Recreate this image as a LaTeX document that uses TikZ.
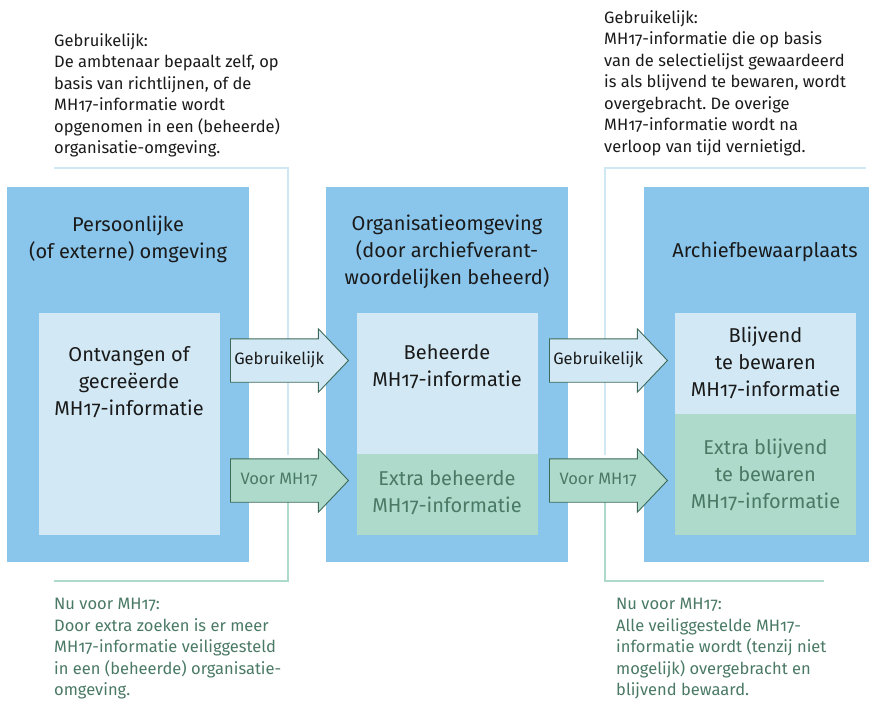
\documentclass[tikz,border=0pt]{standalone}
\usepackage{fontspec}
\setmainfont{Fira Sans}[Numbers=OldStyle]
\frenchspacing
\usetikzlibrary{shapes.arrows}
\definecolor{envblue}{HTML}{8AC6EC}
\definecolor{infoblue}{HTML}{D2E9F5}
\definecolor{infogreen}{HTML}{ADDACB}
\definecolor{textgreen}{HTML}{4A7965}
\definecolor{arrowline}{HTML}{3E6B59}
\definecolor{darktext}{HTML}{1A1A1A}
\definecolor{usualline}{HTML}{D0E8F4}
\definecolor{mhline}{HTML}{AEDACB}
\tikzset{
  envbox/.style={fill=envblue,minimum height=375pt,inner sep=0pt},
  infobox/.style={fill=infoblue,minimum width=181pt,inner sep=0pt},
  extrabox/.style={fill=infogreen,minimum width=181pt,inner sep=0pt},
  note/.style={align=left,inner sep=0pt,font=\fontsize{16.5}{21.5}\selectfont},
  boxtext/.style={align=center,inner sep=0pt,font=\fontsize{20}{27}\selectfont,text=darktext},
  flowarrow/.style={single arrow,draw=arrowline,line width=0.9pt,minimum height=118pt,
    single arrow head extend=10pt,single arrow tip angle=93,inner xsep=3pt,inner ysep=14.5pt,
    text height=10.5pt,text depth=3pt,font=\fontsize{16.5}{18}\selectfont},
  usualconn/.style={draw=usualline,line width=2pt},
  mhconn/.style={draw=mhline,line width=2pt}
}
\begin{document}
\begin{tikzpicture}[x=1pt,y=-1pt]
  \useasboundingbox (0,0) rectangle (876,704);
  % explanation texts
  \node[note,anchor=north west,text=darktext] at (54,33) (usualleft) {Gebruikelijk:\\De ambtenaar bepaalt zelf, op\\basis van richtlijnen, of de\\MH17-informatie wordt\\opgenomen in een (beheerde)\\organisatie-omgeving.};
  \node[note,anchor=north west,text=darktext] at (604,10) (usualright) {Gebruikelijk:\\MH17-informatie die op basis\\van de selectielijst gewaardeerd\\is als blijvend te bewaren, wordt\\overgebracht. De overige\\MH17-informatie wordt na\\verloop van tijd vernietigd.};
  \node[note,anchor=north west,text=textgreen] at (54,598) (mhleft) {Nu voor MH17:\\Door extra zoeken is er meer\\MH17-informatie veiliggesteld\\in een (beheerde) organisatie-\\omgeving.};
  \node[note,anchor=north west,text=textgreen] at (616,598) (mhright) {Nu voor MH17:\\Alle veiliggestelde MH17-\\informatie wordt (tenzij niet\\mogelijk) overgebracht en\\blijvend bewaard.};
  % bracket lines
  \coordinate (ul1) at (54,168);
  \coordinate (ul2) at (288,455);
  \coordinate (ur1) at (866,168);
  \coordinate (ur2) at (605,455);
  \coordinate (ml1) at (54,581);
  \coordinate (ml2) at (288,490);
  \coordinate (mr1) at (824,581);
  \coordinate (mr2) at (605,490);
  \draw[usualconn] (ul1) -| (ul2);
  \draw[usualconn] (ur1) -| (ur2);
  \draw[mhconn] (ml1) -| (ml2);
  \draw[mhconn] (mr1) -| (mr2);
  % environments
  \node[envbox,minimum width=242pt] at (128,374.5) (personal) {};
  \node[envbox,minimum width=242pt] at (447,374.5) (organisation) {};
  \node[envbox,minimum width=225pt] at (756.5,374.5) (archive) {};
  \node[boxtext] at (128,239) (personaltitle) {Persoonlijke\\(of externe) omgeving};
  \node[boxtext] at (447,252) (organisationtitle) {Organisatieomgeving\\(door archiefverant-\\woordelijken beheerd)};
  \node[boxtext] at (765,252) (archivetitle) {Archiefbewaarplaats};
  % information blocks
  \node[infobox,minimum height=222pt] at (129,424) (received) {};
  \node[infobox,minimum height=141pt] at (447,383.5) (managed) {};
  \node[extrabox,minimum height=81pt] at (447,494.5) (extramanaged) {};
  \node[infobox,minimum height=101pt] at (765.5,363.5) (permanent) {};
  \node[extrabox,minimum height=121pt] at (765.5,474.5) (extrapermanent) {};
  \node[boxtext] at (129,382) (receivedtext) {Ontvangen of\\gecreëerde\\MH17-informatie};
  \node[boxtext] at (447,366.5) (managedtext) {Beheerde\\MH17-informatie};
  \node[boxtext,text=textgreen] at (447,492.5) (extramanagedtext) {Extra beheerde\\MH17-informatie};
  \node[boxtext] at (765.5,363) (permanenttext) {Blijvend\\te bewaren\\MH17-informatie};
  \node[boxtext,text=textgreen] at (765.5,475) (extrapermanenttext) {Extra blijvend\\te bewaren\\MH17-informatie};
  % flow arrows
  \node[flowarrow,fill=infoblue,text=darktext,anchor=tail] at (230,360.5) (usual1) {Gebruikelijk};
  \node[flowarrow,fill=infogreen,text=textgreen,anchor=tail] at (230,480.5) (mh1) {Voor MH17};
  \node[flowarrow,fill=infoblue,text=darktext,anchor=tail] at (549,360.5) (usual2) {Gebruikelijk};
  \node[flowarrow,fill=infogreen,text=textgreen,anchor=tail] at (549,480.5) (mh2) {Voor MH17};
\end{tikzpicture}
\end{document}
